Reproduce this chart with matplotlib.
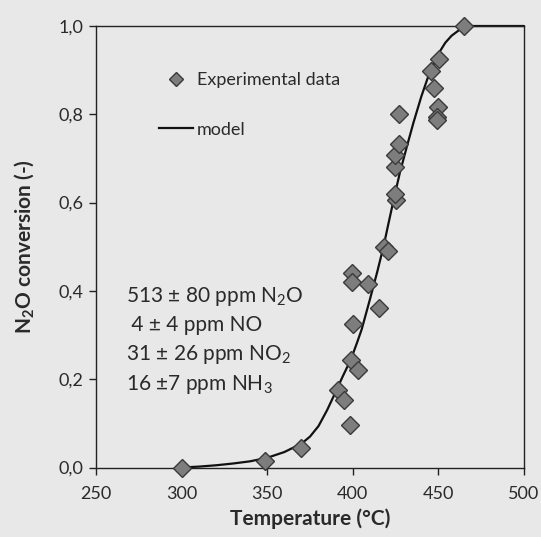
import matplotlib
matplotlib.use("Agg")
import matplotlib.pyplot as plt
from matplotlib.lines import Line2D

# ---- data ----
exp_T = [300, 349, 370, 391.5, 395, 398.5, 399, 403, 400, 399.5, 399.5, 409,
         415.5, 418.5, 420.5, 425, 424.5, 424.5, 424.5, 427, 427, 445.5, 447.5,
         450.5, 450, 449, 449, 465]
exp_X = [0.0, 0.015, 0.045, 0.175, 0.152, 0.097, 0.244, 0.22, 0.325, 0.44, 0.42, 0.415,
         0.362, 0.50, 0.49, 0.607, 0.62, 0.68, 0.708, 0.733, 0.80, 0.897, 0.86,
         0.925, 0.817, 0.793, 0.786, 1.0]

model_T = [300, 310, 320, 330, 340, 350, 360, 370, 375, 380, 385, 389, 394.2, 398.9,
           402.5, 405.2, 409.8, 414.2, 418.1, 420.4, 423.9, 427.5, 432, 435.5, 440,
           444, 450, 454, 457.7, 461.5, 464.5, 470, 500]
model_X = [0.0, 0.002, 0.005, 0.009, 0.014, 0.022, 0.035, 0.054, 0.07, 0.094, 0.13,
           0.163, 0.207, 0.245, 0.283, 0.313, 0.378, 0.442, 0.503, 0.545, 0.607,
           0.668, 0.733, 0.782, 0.840, 0.885, 0.937, 0.962, 0.978, 0.989, 0.997, 1.0, 1.0]

x_ticks = [250, 300, 350, 400, 450, 500]
x_tick_labels = ["250", "300", "350", "400", "450", "500"]
y_ticks = [0.0, 0.2, 0.4, 0.6, 0.8, 1.0]
y_tick_labels = ["0,0", "0,2", "0,4", "0,6", "0,8", "1,0"]

conditions = [r"513 ± 80 ppm N$_2$O",
              r" 4 ± 4 ppm NO",
              r"31 ± 26 ppm NO$_2$",
              r"16 ±7 ppm NH$_3$"]

# ---- style ----
plt.rcParams['font.family'] = ['Lato', 'DejaVu Sans']
plt.rcParams['mathtext.fontset'] = 'custom'
plt.rcParams['mathtext.rm'] = 'Lato'
plt.rcParams['mathtext.bf'] = 'Lato:bold'
plt.rcParams['mathtext.it'] = 'Lato:italic'
plt.rcParams['mathtext.default'] = 'regular'

bg = '#e8e8e8'
txt = '#2a2a2a'

fig = plt.figure(figsize=(5.41, 5.37), dpi=100, facecolor=bg)
ax = fig.add_axes([96/541, 1 - 467.5/537, 428/541, 441.5/537])
ax.set_facecolor(bg)

ax.plot(model_T, model_X, color='#111111', lw=1.6, zorder=2, clip_on=False,
        solid_capstyle='round', solid_joinstyle='round')
ax.plot(exp_T, exp_X, linestyle='none', marker='D', ms=9.5,
        markerfacecolor='#7d7d7d', markeredgecolor='#3a3a3a', markeredgewidth=1.0,
        zorder=3, clip_on=False)

ax.set_xlim(250, 500)
ax.set_ylim(0, 1.0)
ax.set_xticks(x_ticks)
ax.set_xticklabels(x_tick_labels)
ax.set_yticks(y_ticks)
ax.set_yticklabels(y_tick_labels)
ax.tick_params(axis='both', direction='out', length=5, width=1, colors='#222222',
               labelsize=13, labelcolor=txt)
ax.tick_params(axis='x', pad=8)
ax.tick_params(axis='y', pad=4)
for s in ax.spines.values():
    s.set_color('#222222')
    s.set_linewidth(1.0)

ax.set_xlabel("Temperature (°C)", fontsize=15, fontweight='bold', color=txt, labelpad=5)
ax.set_ylabel(r"N$_\mathbf{2}$O conversion (-)", fontsize=15, fontweight='bold',
              color=txt, labelpad=16)

handles = [Line2D([], [], linestyle='none', marker='D', ms=7.5,
                  markerfacecolor='#7d7d7d', markeredgecolor='#3a3a3a', markeredgewidth=1.0),
           Line2D([], [], color='#111111', lw=1.6)]
leg = ax.legend(handles, ["Experimental data", "model"], loc='upper left',
                bbox_to_anchor=(0.147, 0.895), frameon=False, fontsize=13,
                handlelength=1.9, handletextpad=0.2, labelspacing=1.85,
                borderpad=0, borderaxespad=0)
for t in leg.get_texts():
    t.set_color(txt)

y0 = (467.5 - 296) / 441.5
dy = 29.4 / 441.5
for i, line in enumerate(conditions):
    ax.text(0.07, y0 - i * dy, line, transform=ax.transAxes, fontsize=15,
            color=txt, va='center', ha='left')

fig.savefig("out.png", dpi=100, facecolor=bg)
